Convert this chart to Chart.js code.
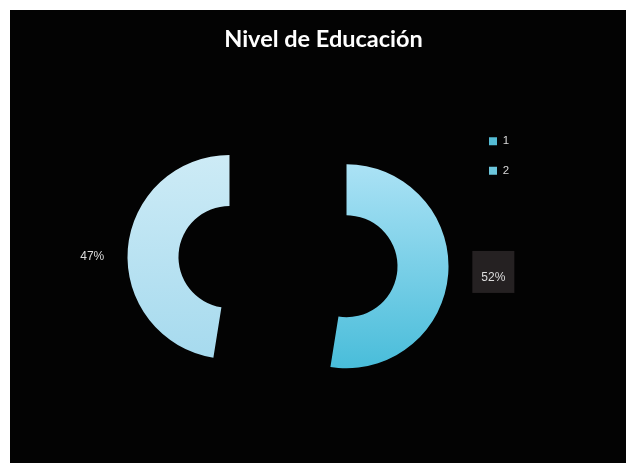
<!DOCTYPE html>
<html>
<head>
<meta charset="utf-8">
<script src="https://cdn.jsdelivr.net/npm/chart.js@4/dist/chart.umd.min.js"></script>
<style>
  html, body { margin: 0; padding: 0; background: #ffffff; }
  #wrap { position: absolute; left: 10px; top: 10px; width: 616px; height: 453px; background: #030303; }
</style>
</head>
<body>
<div id="wrap"><canvas id="c"></canvas></div>
<script>
// ---- data ----
const categories = ['1', '2'];
const values = [52, 47];
const valueLabels = ['52%', '47%'];
const chartTitle = 'Nivel de Educación';

// ---- style ----
const RADIUS = 102;
const EXPLODE = 58.7;
const GRADIENTS = [['#abe2f5', '#49bdda'], ['#cdebf6', '#a6daee']];
const LEGEND_COLORS = ['#55bcd5', '#6cc6dc'];
const LEGEND_W = 71;
const LEGEND_POS = { left: 461, top: 107.5 };
const LABEL_STYLE = [
  { dist: 206, dy: -6, box: true, textDy: 6 },
  { dist: 196.4, dy: 11, box: false, textDy: 0 }
];

Chart.defaults.font.family = "'Liberation Sans', Arial, sans-serif";

const explodePlugin = {
  id: 'explode',
  beforeInit(chart) {
    const lg = chart.legend;
    const fit = lg.fit;
    lg.fit = function () { fit.call(this); this.width = LEGEND_W; };
  },
  afterUpdate(chart) {
    chart.getDatasetMeta(0).data.forEach(arc => {
      if (arc.$exploded) return;
      const orig = arc.draw;
      arc.draw = function (ctx, area) {
        const mid = (this.startAngle + this.endAngle) / 2;
        ctx.save();
        ctx.translate(Math.cos(mid) * EXPLODE, Math.sin(mid) * EXPLODE);
        orig.call(this, ctx, area);
        ctx.restore();
      };
      arc.$exploded = true;
    });
  },
  beforeDraw(chart) {
    const lg = chart.legend;
    const w = lg.width;
    lg.left = LEGEND_POS.left; lg.right = LEGEND_POS.left + w;
    lg.top = LEGEND_POS.top; lg.bottom = LEGEND_POS.top + 300;
  },
  afterDatasetsDraw(chart) {
    const ctx = chart.ctx;
    chart.getDatasetMeta(0).data.forEach((arc, i) => {
      const mid = (arc.startAngle + arc.endAngle) / 2;
      const st = LABEL_STYLE[i];
      const x = arc.x + Math.cos(mid) * st.dist;
      const y = arc.y + Math.sin(mid) * st.dist + st.dy;
      ctx.save();
      if (st.box) {
        ctx.fillStyle = '#252122';
        ctx.fillRect(x - 21, y - 21, 42, 42);
      }
      ctx.fillStyle = '#dcdcdc';
      ctx.font = "12px 'Liberation Sans', Arial, sans-serif";
      ctx.textAlign = 'center';
      ctx.textBaseline = 'middle';
      ctx.fillText(valueLabels[i], x, y + st.textDy);
      ctx.restore();
    });
  }
};

new Chart(document.getElementById('c'), {
  type: 'doughnut',
  data: {
    labels: categories,
    datasets: [{
      data: values,
      radius: RADIUS,
      cutout: '50%',
      borderWidth: 0,
      backgroundColor: (c) => {
        const chart = c.chart;
        const a = chart.chartArea;
        const i = c.dataIndex || 0;
        if (!a) return GRADIENTS[i][1];
        const cy = (a.top + a.bottom) / 2;
        const g = chart.ctx.createLinearGradient(0, cy - RADIUS, 0, cy + RADIUS);
        g.addColorStop(0, GRADIENTS[i][0]);
        g.addColorStop(1, GRADIENTS[i][1]);
        return g;
      }
    }]
  },
  options: {
    responsive: true,
    maintainAspectRatio: false,
    animation: false,
    layout: { padding: { left: 11, right: 0, top: 0, bottom: 3 } },
    plugins: {
      tooltip: { enabled: false },
      title: {
        display: true,
        text: chartTitle,
        color: '#ffffff',
        font: { family: 'Lato', size: 23.5, weight: 'bold' },
        padding: { top: 15, bottom: 10 }
      },
      legend: {
        position: 'right',
        align: 'start',
        labels: {
          boxWidth: 8,
          boxHeight: 8,
          padding: 18,
          color: '#d9d9d9',
          font: { size: 11.5 },
          generateLabels: () => categories.map((t, i) => ({
            text: t, fillStyle: LEGEND_COLORS[i], strokeStyle: 'rgba(0,0,0,0)',
            lineWidth: 0, fontColor: '#d9d9d9', hidden: false, index: i
          }))
        }
      }
    }
  },
  plugins: [explodePlugin]
});
</script>
</body>
</html>
